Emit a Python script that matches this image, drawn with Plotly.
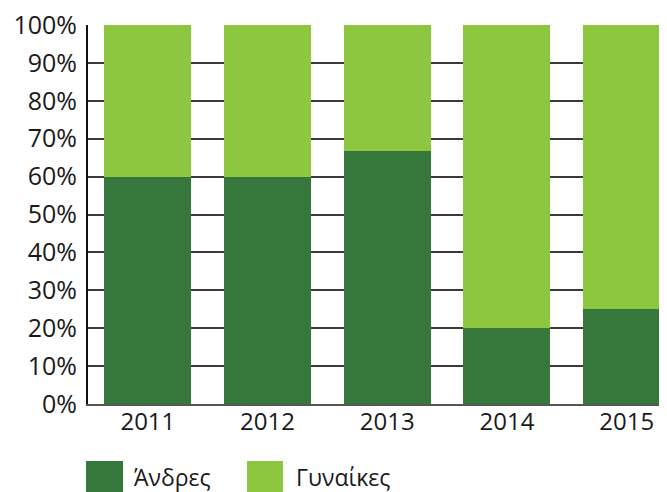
import plotly.graph_objects as go

years = ['2011', '2012', '2013', '2014', '2015']
men = [60, 60, 66.7, 20, 25]
women = [40, 40, 33.3, 80, 75]
series_names = ['Άνδρες', 'Γυναίκες']
colors = ['#36783b', '#8dc63f']

FONT = 'Open Sans'
OFF = 8  # page body margin

fig = go.Figure()
for name, vals, col in zip(series_names, [men, women], colors):
    fig.add_trace(go.Bar(x=list(range(len(years))), y=vals, name=name,
                         marker=dict(color=col, line=dict(width=0)),
                         showlegend=False))

W, H = 667 - OFF, 492 - OFF
fig.update_layout(
    barmode='stack',
    bargap=0.273,
    width=W, height=H,
    margin=dict(l=88 - OFF, r=0, t=25 - OFF, b=H - (404 - OFF), autoexpand=False),
    plot_bgcolor='white',
    paper_bgcolor='white',
    font=dict(family=FONT, size=23, color='#1a1a1a'),
    xaxis=dict(
        range=[-0.5, 4.337],
        tickmode='array',
        tickvals=list(range(len(years))),
        ticktext=years,
        showgrid=False,
        showline=True, linecolor='#555555', linewidth=2,
        ticks='', ticklabelstandoff=-5,
        tickfont=dict(size=24),
        automargin=False,
    ),
    yaxis=dict(
        range=[0, 100],
        dtick=10,
        ticksuffix='%',
        showgrid=True, gridcolor='#3a3a3a', gridwidth=1.5,
        showline=True, linecolor='#111111', linewidth=2,
        zeroline=False,
        ticks='', ticklabelstandoff=4,
        ticklabeloverflow='allow',
        tickfont=dict(size=25),
        automargin=False,
    ),
)

# legend drawn manually with large swatches (screen pixel positions)
plot_h = 404 - 25
plot_w = 667 - 88
def px_x(p):
    return (p - 88) / plot_w
def px_y(p):
    return (404 - p) / plot_h

legend_x = [(86, 123, 132), (247, 283, 294)]
for (x0, x1, tx), name, col in zip(legend_x, series_names, colors):
    fig.add_shape(type='rect', xref='paper', yref='paper',
                  x0=px_x(x0), x1=px_x(x1), y0=px_y(461), y1=px_y(500),
                  fillcolor=col, line=dict(width=0))
    fig.add_annotation(xref='paper', yref='paper', x=px_x(tx), y=px_y(495),
                       xanchor='left', yanchor='bottom', text=name, showarrow=False,
                       font=dict(size=23, family=FONT, color='#1a1a1a'))

fig.write_html('out.html')
